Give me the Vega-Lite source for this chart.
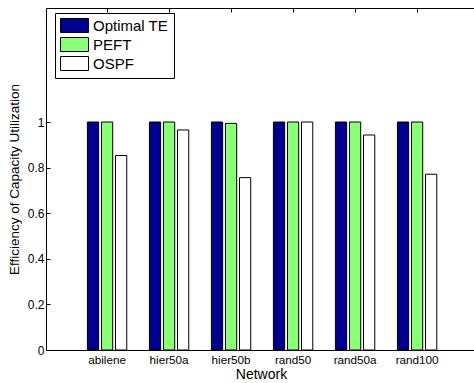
{
  "$schema": "https://vega.github.io/schema/vega-lite/v6.json",
  "width": 430,
  "height": 342,
  "autosize": "none",
  "padding": {"left": 46, "top": 8, "right": 0, "bottom": 33},
  "background": "white",
  "config": {
    "font": "Liberation Sans",
    "view": {"stroke": null},
    "axis": {"grid": false, "domainColor": "black", "tickColor": "black", "labelColor": "black", "titleColor": "black", "titleFontWeight": "normal", "labelFont": "Liberation Sans", "titleFont": "Liberation Sans"}
  },
  "data": {"values": [
    {"network": "abilene", "method": "Optimal TE", "value": 1.0},
    {"network": "abilene", "method": "PEFT", "value": 1.0},
    {"network": "abilene", "method": "OSPF", "value": 0.853},
    {"network": "hier50a", "method": "Optimal TE", "value": 1.0},
    {"network": "hier50a", "method": "PEFT", "value": 1.0},
    {"network": "hier50a", "method": "OSPF", "value": 0.965},
    {"network": "hier50b", "method": "Optimal TE", "value": 1.0},
    {"network": "hier50b", "method": "PEFT", "value": 0.994},
    {"network": "hier50b", "method": "OSPF", "value": 0.756},
    {"network": "rand50", "method": "Optimal TE", "value": 1.0},
    {"network": "rand50", "method": "PEFT", "value": 1.0},
    {"network": "rand50", "method": "OSPF", "value": 1.0},
    {"network": "rand50a", "method": "Optimal TE", "value": 1.0},
    {"network": "rand50a", "method": "PEFT", "value": 1.0},
    {"network": "rand50a", "method": "OSPF", "value": 0.943},
    {"network": "rand100", "method": "Optimal TE", "value": 1.0},
    {"network": "rand100", "method": "PEFT", "value": 1.0},
    {"network": "rand100", "method": "OSPF", "value": 0.771}
  ]},
  "layer": [
    {
      "mark": {"type": "bar", "stroke": "black", "strokeWidth": 1},
      "encoding": {
        "x": {
          "field": "network", "type": "nominal", "sort": null,
          "scale": {"paddingInner": 0.32, "paddingOuter": 0.6275, "align": 0.514},
          "axis": {"orient": "bottom", "title": "Network", "labelAngle": 0, "labelFontSize": 11.7, "titleFontSize": 14, "tickSize": -4, "labelPadding": 8, "titlePadding": 2}
        },
        "xOffset": {
          "field": "method", "type": "nominal", "sort": ["Optimal TE", "PEFT", "OSPF"],
          "scale": {"paddingInner": 0.2, "paddingOuter": 0.1}
        },
        "y": {
          "field": "value", "type": "quantitative",
          "scale": {"domain": [0, 1.5], "nice": false},
          "axis": {"values": [0, 0.2, 0.4, 0.6, 0.8, 1], "format": "~g", "title": "Efficiency of Capacity Utilization", "labelFontSize": 12, "titleFontSize": 13.5, "tickSize": -4, "labelPadding": 6, "titlePadding": 6}
        },
        "fill": {
          "field": "method", "type": "nominal",
          "scale": {"domain": ["Optimal TE", "PEFT", "OSPF"], "range": ["#00008F", "#8CFF78", "#FFFFFF"]},
          "legend": {
            "title": null, "orient": "none", "legendX": 9, "legendY": 5,
            "fillColor": "white", "strokeColor": "black", "padding": 5,
            "symbolType": "M-2,-1H2V1H-2Z", "symbolSize": 196, "symbolStrokeColor": "black", "symbolStrokeWidth": 1,
            "symbolOffset": 7, "labelOffset": 11, "labelFontSize": 15, "labelColor": "black", "rowPadding": 0
          }
        }
      }
    },
    {
      "mark": {"type": "bar", "opacity": 0},
      "encoding": {
        "x": {
          "field": "network", "type": "nominal", "sort": null,
          "axis": {"orient": "top", "labels": false, "title": null, "tickSize": -4, "domain": true}
        },
        "y": {"field": "value", "type": "quantitative"}
      }
    }
  ],
  "resolve": {"axis": {"x": "independent"}}
}
